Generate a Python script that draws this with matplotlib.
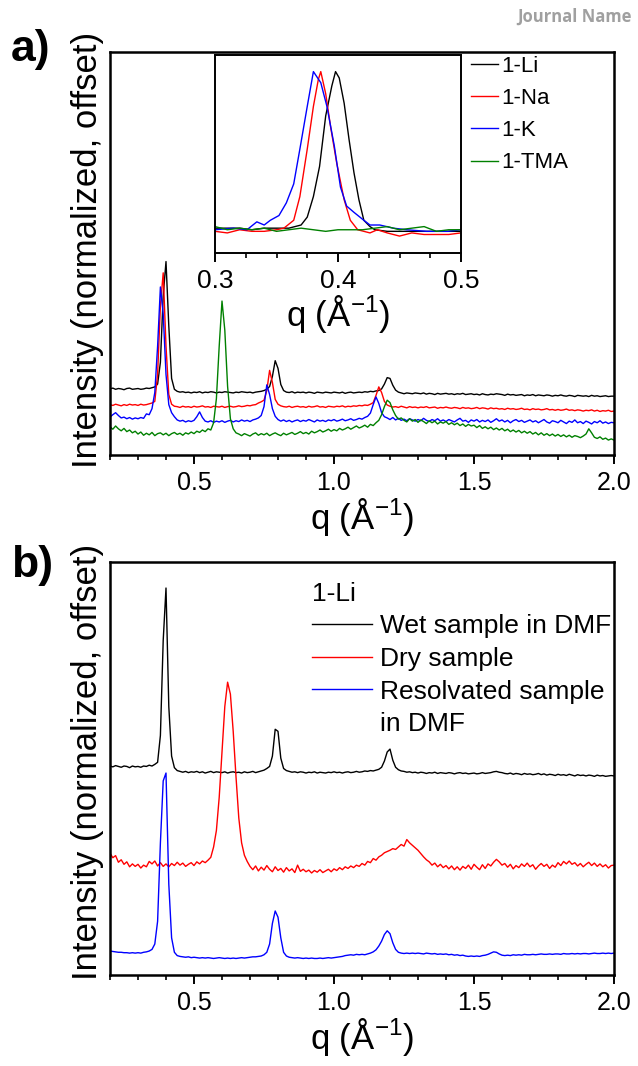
import numpy as np
import matplotlib.pyplot as plt
from matplotlib.lines import Line2D
from matplotlib.ticker import MultipleLocator

plt.rcParams['font.family'] = ['Liberation Sans', 'DejaVu Sans']
plt.rcParams['mathtext.fontset'] = 'custom'
plt.rcParams['mathtext.rm'] = 'Liberation Sans'
plt.rcParams['mathtext.it'] = 'Liberation Sans:italic'

#%% DATA (intensities relative to each trace's baseline)

# shared q grid for the full-range scans, 0.20 .. 2.00 in 0.01 steps
q = np.linspace(0.2, 2.0, 181)

# panel a, full range
a_li = [1.4, 1.6, 1.3, 1.5, 1.4, 1.2, 1.5, 1.6, 1.3, 1.4,
        1.5, 1.3, 1.4, 1.6, 1.5, 1.7, 1.9, 2.6, 8.0, 24.5,
        33.0, 17.0, 4.0, 1.3, 0.8, 0.6, 0.7, 0.5, 0.6, 0.4,
        0.6, 0.5, 0.7, 0.4, 0.6, 0.5, 0.7, 0.6, 0.4, 0.6,
        0.5, 0.7, 0.6, 0.5, 0.4, 0.6, 0.5, 0.7, 0.6, 0.5,
        0.6, 0.4, 0.6, 0.7, 0.8, 1.0, 1.3, 2.0, 4.5, 8.4,
        6.5, 2.5, 1.0, 0.6, 0.5, 0.7, 0.4, 0.6, 0.5, 0.6,
        0.4, 0.6, 0.5, 0.3, 0.6, 0.5, 0.4, 0.6, 0.5, 0.4,
        0.6, 0.5, 0.4, 0.6, 0.3, 0.5, 0.6, 0.4, 0.5, 0.6,
        0.5, 0.7, 0.6, 0.8, 0.7, 0.9, 1.0, 1.4, 2.6, 4.2,
        4.0, 2.3, 1.1, 0.6, 0.4, 0.2, 0.4, 0.3, 0.2, 0.4,
        0.3, 0.2, 0.4, 0.1, 0.3, 0.2, 0.0, 0.3, 0.1, 0.2,
        0.3, 0.1, 0.2, 0.0, 0.2, 0.1, 0.3, 0.0, 0.1, 0.2,
        0.0, 0.1, -0.1, 0.2, 0.0, -0.1, 0.1, 0.0, 0.2, 0.1,
        0.0, -0.2, 0.1, -0.1, 0.0, -0.2, -0.1, 0.0, -0.3, -0.1,
        -0.2, 0.0, -0.3, -0.1, -0.2, -0.3, -0.1, -0.2, -0.4, -0.2,
        -0.3, -0.1, -0.3, -0.4, -0.2, -0.3, -0.5, -0.2, -0.3, -0.4,
        -0.3, -0.5, -0.2, -0.4, -0.3, -0.5, -0.4, -0.3, -0.5, -0.4,
        -0.4]
a_na = [0.5, 0.3, 0.6, 0.4, 0.2, 0.5, 0.3, 0.6, 0.4, 0.5,
        0.3, 0.6, 0.4, 0.5, 0.7, 0.9, 1.3, 8.0, 25.0, 33.2,
        15.0, 3.0, 0.6, 0.1, 0.0, -0.2, 0.1, -0.1, 0.0, -0.2,
        0.1, -0.1, 0.0, 0.2, -0.1, 0.0, -0.2, 0.1, 0.0, -0.1,
        0.1, -0.2, 0.0, 0.1, -0.1, 0.0, 0.2, 0.0, 0.1, 0.3,
        0.2, 0.4, 0.5, 0.9, 1.2, 1.6, 4.0, 9.0, 6.0, 1.8,
        0.6, 0.2, 0.0, -0.1, 0.1, -0.2, 0.0, 0.1, -0.1, 0.0,
        -0.2, 0.1, -0.1, 0.0, 0.2, -0.1, 0.0, -0.2, 0.1, 0.0,
        -0.1, 0.1, 0.0, 0.2, -0.1, 0.1, 0.0, 0.2, 0.1, 0.3,
        0.2, 0.4, 0.3, 0.6, 1.0, 2.8, 4.9, 3.5, 1.3, 0.4,
        0.1, -0.1, 0.0, -0.2, 0.1, -0.1, -0.3, 0.0, -0.2, -0.1,
        -0.3, -0.1, -0.2, 0.0, -0.3, -0.2, -0.1, -0.4, -0.2, -0.3,
        -0.1, -0.3, -0.4, -0.2, -0.3, -0.5, -0.2, -0.4, -0.3, -0.5,
        -0.4, -0.2, -0.5, -0.3, -0.4, -0.6, -0.3, -0.5, -0.4, -0.6,
        -0.5, -0.7, -0.4, -0.6, -0.5, -0.7, -0.6, -0.4, -0.7, -0.6,
        -0.8, -0.5, -0.7, -0.6, -0.8, -0.7, -0.5, -0.8, -0.7, -0.9,
        -0.7, -0.9, -0.8, -0.6, -0.9, -0.8, -1.0, -0.8, -0.9, -1.1,
        -0.9, -1.0, -0.8, -1.1, -0.9, -1.2, -1.0, -1.1, -0.9, -1.2,
        -1.1]
a_k = [0.4, 1.0, 1.5, 0.8, 0.2, 0.4, 0.0, 0.3, -0.1, 0.2,
       0.0, 0.3, 0.1, 1.2, 1.0, 2.5, 6.5, 18.0, 32.7, 26.0,
       11.0, 3.5, 1.5, 0.5, -0.3, -0.6, -0.4, -0.8, -0.5, -0.7,
       -0.4, 0.5, 1.7, 0.3, -0.6, -0.8, -0.5, -0.9, -0.6, -0.8,
       -0.5, -0.9, -0.6, -0.4, -0.8, -0.5, -0.7, -0.3, -0.6, -0.4,
       -0.7, -0.3, -0.1, 0.2, 0.8, 3.0, 8.4, 6.0, 2.5, 0.6,
       -0.2, -0.6, -0.3, -0.7, -0.4, -0.8, -0.5, -0.3, -0.7, -0.4,
       -0.6, -0.2, -0.5, -0.8, -0.3, -0.6, -0.4, -0.7, -0.3, -0.5,
       -0.2, -0.6, -0.4, -0.1, -0.5, -0.3, 0.0, -0.4, -0.2, 0.1,
       -0.1, 0.3, 0.6, 1.4, 3.5, 5.4, 3.8, 1.5, 0.5, 0.2,
       -0.2, 0.3, -0.3, 0.1, -0.4, -0.1, -0.5, 0.0, -0.3, -0.6,
       -0.2, -0.5, 0.1, -0.4, -0.7, -0.2, -0.5, 0.0, -0.6, -0.3,
       -0.7, -0.2, -0.5, -0.8, -0.3, 0.1, -0.6, -0.4, -0.9, -0.3,
       -0.6, -0.2, -0.8, -0.4, -0.7, -0.3, -0.9, -0.5, 0.0, -0.6,
       -0.3, -0.8, -0.4, -1.0, -0.5, -0.2, -0.7, -0.4, -0.9, -0.6,
       -0.3, -0.8, -0.5, -1.0, -0.6, -0.2, -0.8, -1.1, -0.5, -0.7,
       -1.0, -0.4, -0.8, -1.2, -0.6, -0.9, -0.3, -1.0, -0.7, -1.2,
       -0.6, -0.9, -1.3, -0.7, -1.0, -0.5, -1.1, -0.8, -1.2, -0.9,
       -1.0]
a_tma = [2.0, 1.4, 2.2, 1.5, 1.0, 1.6, 0.8, 1.2, 0.5, 0.9,
         0.2, 0.7, -0.1, 0.4, 0.0, 0.6, -0.2, 0.3, 0.5, 0.0,
         0.4, -0.2, 0.3, 0.6, 0.1, 0.4, -0.1, 0.5, 0.2, 0.7,
         0.3, 0.9, 0.6, 1.2, 0.8, 1.5, 1.2, 3.0, 9.0, 22.0,
         33.2, 26.0, 12.0, 4.0, 1.5, 0.5, 0.2, -0.2, 0.3, 0.0,
         -0.3, 0.2, 0.5, -0.1, 0.3, 0.0, 0.4, -0.2, 0.2, 0.5,
         0.1, -0.2, 0.4, 0.0, 0.3, 0.6, 0.1, 0.4, 0.8, 0.3,
         0.6, 0.2, 0.9, 0.5, 0.8, 1.2, 0.7, 1.0, 1.4, 0.9,
         1.3, 1.0, 1.6, 1.2, 1.5, 1.9, 1.4, 1.8, 2.2, 1.7,
         2.0, 2.4, 1.9, 2.6, 2.3, 3.0, 3.6, 5.0, 7.0, 8.6,
         8.0, 6.2, 4.8, 3.9, 4.2, 3.6, 3.2, 4.0, 3.4, 3.8,
         3.1, 3.7, 3.3, 2.8, 3.5, 3.0, 3.4, 2.7, 3.2, 2.9,
         3.3, 2.6, 3.0, 2.5, 2.9, 2.3, 2.7, 2.1, 2.6, 2.2,
         2.4, 1.8, 2.3, 1.6, 2.0, 1.5, 1.9, 1.3, 1.7, 1.2,
         1.6, 1.0, 1.4, 0.8, 1.2, 0.7, 1.1, 0.5, 0.9, 0.4,
         0.8, 0.2, 0.6, 0.0, 0.5, -0.1, 0.3, -0.2, 0.2, -0.3,
         0.1, -0.4, 0.0, -0.5, -0.1, -0.6, -0.2, -0.4, -0.7, -0.3,
         0.2, 1.5, 0.5, -0.6, -0.9, -0.5, -1.1, -0.8, -1.3, -1.0,
         -1.3]
a_labels = ['1-Li', '1-Na', '1-K', '1-TMA']
a_offsets = [15, 12, 9, 5]

# panel a inset, zoom on the first peak (normalized)
in_q_li = [0.30, 0.31, 0.32, 0.33, 0.34, 0.35, 0.36, 0.37, 0.375, 0.38, 0.385, 0.39, 0.395,
           0.398, 0.401, 0.405, 0.409, 0.413, 0.417, 0.421, 0.426, 0.43, 0.44, 0.45, 0.46,
           0.47, 0.48, 0.49, 0.50]
in_li = [0.01, 0.01, 0.01, 0.00, 0.01, 0.01, 0.01, 0.03, 0.08, 0.21, 0.40, 0.72, 0.91,
         1.00, 0.96, 0.80, 0.57, 0.36, 0.19, 0.06, 0.02, 0.00, -0.01, -0.01, -0.01,
         -0.01, -0.01, -0.01, -0.01]
in_q_na = [0.30, 0.31, 0.32, 0.33, 0.34, 0.35, 0.356, 0.364, 0.369, 0.375, 0.38, 0.384, 0.386,
           0.39, 0.394, 0.399, 0.405, 0.41, 0.416, 0.421, 0.426, 0.432, 0.44, 0.45, 0.46,
           0.47, 0.48, 0.49, 0.50]
in_na = [-0.01, -0.02, 0.00, -0.01, -0.01, 0.00, 0.01, 0.06, 0.21, 0.51, 0.78, 0.95, 1.00,
         0.86, 0.65, 0.42, 0.19, 0.06, 0.00, -0.01, -0.02, 0.00, -0.02, -0.04, -0.02,
         -0.03, -0.03, -0.03, -0.02]
in_q_k = [0.30, 0.315, 0.326, 0.334, 0.34, 0.345, 0.352, 0.358, 0.364, 0.369, 0.375, 0.38,
          0.386, 0.391, 0.397, 0.402, 0.407, 0.413, 0.421, 0.426, 0.434, 0.445, 0.456,
          0.472, 0.489, 0.50]
in_k = [0.00, 0.01, 0.00, 0.05, 0.03, 0.06, 0.09, 0.17, 0.29, 0.51, 0.78, 1.00,
        0.93, 0.78, 0.53, 0.27, 0.15, 0.11, 0.06, 0.03, 0.03, 0.01, 0.00,
        -0.01, -0.01, 0.00]
in_q_tma = [0.30, 0.31, 0.32, 0.33, 0.34, 0.35, 0.36, 0.37, 0.38, 0.39, 0.40,
            0.41, 0.42, 0.43, 0.44, 0.45, 0.46, 0.47, 0.48, 0.49, 0.50]
in_tma = [0.02, 0.00, 0.01, 0.00, 0.01, -0.01, 0.00, 0.01, 0.00, -0.01, 0.00,
          0.00, 0.00, 0.01, 0.02, 0.00, 0.01, 0.02, -0.01, 0.00, 0.00]

# panel b, 1-Li in different states
b_wet = [1.6, 1.4, 1.7, 1.5, 1.3, 1.6, 1.5, 1.2, 1.6, 1.4,
         1.5, 1.3, 1.6, 1.5, 1.8, 1.6, 2.0, 2.5, 9.0, 32.0,
         44.7, 16.0, 4.0, 1.2, 0.5, 0.3, 0.1, 0.3, 0.0, 0.2,
         0.1, 0.3, 0.0, 0.2, -0.1, 0.1, 0.3, 0.0, 0.2, 0.1,
         0.0, 0.2, -0.1, 0.1, 0.2, 0.0, 0.1, -0.1, 0.2, 0.0,
         0.1, 0.3, 0.0, 0.2, 0.4, 0.6, 1.0, 1.5, 4.0, 10.5,
         10.0, 3.5, 1.0, 0.5, 0.3, 0.1, 0.2, 0.0, 0.2, 0.1,
         -0.1, 0.1, 0.0, 0.2, -0.1, 0.1, 0.0, -0.1, 0.1, 0.0,
         0.2, 0.0, 0.1, -0.1, 0.1, 0.2, 0.0, 0.1, 0.3, 0.1,
         0.2, 0.4, 0.3, 0.5, 0.4, 0.6, 0.8, 1.3, 2.8, 5.0,
         5.7, 3.0, 1.3, 0.7, 0.4, 0.3, 0.1, 0.2, 0.0, 0.1,
         -0.1, 0.1, 0.0, -0.2, 0.0, -0.1, 0.1, -0.2, 0.0, -0.1,
         -0.2, 0.0, -0.1, -0.3, -0.1, 0.0, -0.2, -0.1, -0.3, -0.2,
         -0.1, -0.3, -0.2, 0.0, -0.2, -0.1, 0.0, 0.2, 0.3, 0.1,
         0.0, -0.2, -0.3, -0.1, -0.4, -0.2, -0.3, -0.5, -0.2, -0.4,
         -0.3, -0.5, -0.4, -0.2, -0.5, -0.3, -0.6, -0.4, -0.5, -0.7,
         -0.4, -0.6, -0.5, -0.7, -0.4, -0.6, -0.8, -0.5, -0.7, -0.6,
         -0.8, -0.6, -0.7, -0.9, -0.6, -0.8, -0.7, -0.9, -0.8, -0.7,
         -0.8]
b_dry = [3.5, 2.4, 2.9, 1.3, 1.9, 0.8, 1.4, 0.2, 0.9, 0.3,
         0.8, -0.1, 0.6, 0.2, 1.5, 0.9, 1.6, 0.4, 1.2, 0.3,
         0.9, 0.2, 1.0, 0.5, 1.3, 0.6, 1.1, 0.3, 0.8, 1.2,
         0.5, 1.4, 0.9, 1.6, 1.2, 1.8, 2.5, 5.0, 9.0, 17.0,
         28.0, 39.0, 44.9, 42.0, 33.0, 22.0, 12.0, 6.0, 3.0, 1.5,
         0.3, -0.5, 0.4, -0.8, 0.1, -0.6, 0.5, -0.4, -1.0, 0.2,
         -0.7, -0.2, -1.1, 0.0, -0.8, -0.3, -1.2, 0.6, -0.9, -0.4,
         -1.0, -0.6, -1.3, -0.7, -1.1, -0.5, -1.2, -0.8, -0.4, -1.0,
         -0.3, -0.7, 0.0, -0.5, 0.2, -0.2, 0.4, 0.0, 0.6, 0.3,
         1.0, 0.6, 1.5, 1.2, 2.2, 1.8, 2.6, 3.0, 3.6, 3.9,
         4.2, 4.6, 4.4, 5.0, 5.6, 5.2, 6.8, 6.0, 5.4, 4.8,
         4.2, 3.4, 2.6, 1.9, 1.4, 0.6, 1.1, 0.2, 0.8, 0.0,
         0.5, -0.3, 0.4, -0.5, 0.2, -0.6, 0.3, -0.2, 0.6, -0.4,
         0.8, 0.1, -0.5, 0.7, -0.2, 0.9, 0.4, 1.3, 2.0, 1.4,
         0.6, 1.0, 0.1, 0.8, -0.3, 0.5, 0.0, 0.9, 0.3, 1.1,
         0.2, 0.7, -0.4, 0.4, 1.0, 0.3, 0.8, -0.2, 0.6, 0.1,
         1.2, 0.5, 1.5, 0.9, 1.6, 0.8, 1.2, 0.4, 1.0, 0.2,
         0.8, 1.3, 0.5, 1.1, 0.3, 0.9, 0.2, 0.7, -0.1, 0.5,
         0.6]
b_resolv = [1.8, 1.7, 1.6, 1.5, 1.5, 1.4, 1.4, 1.3, 1.4, 1.3,
            1.4, 1.3, 1.5, 1.6, 1.8, 2.2, 3.5, 9.0, 28.0, 43.0,
            44.9, 18.0, 5.0, 1.5, 0.7, 0.5, 0.4, 0.3, 0.4, 0.2,
            0.3, 0.2, 0.1, 0.2, 0.1, 0.2, 0.1, 0.0, 0.1, 0.2,
            0.1, 0.0, 0.1, 0.0, 0.1, 0.0, 0.1, 0.2, 0.1, 0.2,
            0.3, 0.4, 0.4, 0.5, 0.6, 0.9, 1.5, 3.5, 8.5, 11.5,
            10.0, 5.0, 1.5, 0.6, 0.3, 0.2, 0.1, 0.2, 0.1, 0.0,
            0.1, 0.0, 0.1, 0.0, 0.0, 0.1, 0.0, 0.1, 0.2, 0.1,
            0.2, 0.3, 0.4, 0.5, 0.7, 0.8, 0.9, 0.8, 1.0, 0.9,
            1.0, 0.9, 1.1, 1.3, 1.6, 2.1, 3.0, 4.2, 5.8, 6.7,
            6.0, 3.8, 2.2, 1.5, 1.3, 1.2, 1.3, 1.2, 1.3, 1.2,
            1.3, 1.2, 1.1, 1.3, 1.2, 1.1, 1.2, 1.0, 1.1, 1.0,
            1.1, 0.9, 1.0, 0.8, 0.9, 0.7, 0.8, 0.6, 0.5, 0.6,
            0.5, 0.6, 0.5, 0.7, 0.8, 1.0, 1.3, 1.6, 1.5, 1.1,
            0.8, 0.7, 0.8, 0.7, 0.9, 0.8, 0.9, 0.8, 1.0, 0.9,
            0.9, 1.0, 0.9, 1.0, 1.1, 1.0, 1.0, 1.1, 1.0, 1.1,
            1.1, 1.0, 1.2, 1.1, 1.1, 1.2, 1.1, 1.2, 1.1, 1.2,
            1.2, 1.1, 1.2, 1.3, 1.2, 1.2, 1.3, 1.2, 1.3, 1.2,
            1.3]
b_labels = ['Wet sample in DMF', 'Dry sample', 'Resolvated sample\nin DMF']
b_offsets = [49, 26, 4]

colors = ['#000000', '#ff0000', '#0000ff', '#008000']

#%% FIGURE LAYOUT (pixel boxes of the original page)

W, H = 638, 1066
fig = plt.figure(figsize=(W / 100, H / 100), dpi=100)

ax_a = fig.add_axes([110 / W, 1 - 455 / H, 504 / W, 403 / H])
ax_b = fig.add_axes([110 / W, 1 - 975 / H, 504 / W, 413 / H])
ax_in = fig.add_axes([215 / W, 1 - 253 / H, 246 / W, 198 / H])

xlab = r'q (Å$^{\mathrm{-1}}$)'
ylab = 'Intensity (normalized, offset)'


def style_axes(ax, major, minor, lsize, spw):
    ax.set_yticks([])
    ax.xaxis.set_major_locator(MultipleLocator(major))
    ax.xaxis.set_minor_locator(MultipleLocator(minor))
    ax.tick_params(axis='x', which='major', direction='out', length=6.5, width=1.4,
                   labelsize=lsize, pad=5)
    ax.tick_params(axis='x', which='minor', direction='out', length=3.5, width=1.2)
    for s in ax.spines.values():
        s.set_linewidth(spw)


#%% PANEL A

for y, off, c, lab in zip([a_li, a_na, a_k, a_tma], a_offsets, colors, a_labels):
    ax_a.plot(q, np.array(y) + off, color=c, lw=1.0, label=lab)
ax_a.set_xlim(0.2, 2.0)
ax_a.set_ylim(0, 100)
style_axes(ax_a, 0.5, 0.1, 18, 1.8)
ax_a.set_xlabel(xlab, fontsize=25, labelpad=1)
ax_a.set_ylabel(ylab, fontsize=25)
ax_a.yaxis.set_label_coords(-0.012, 0.51)

# inset
for qq, y, c, lab in zip([in_q_li, in_q_na, in_q_k, in_q_tma], [in_li, in_na, in_k, in_tma],
                         colors, a_labels):
    ax_in.plot(qq, y, color=c, lw=1.0, label=lab)
ax_in.set_xlim(0.3, 0.5)
ax_in.set_ylim(-0.147, 1.105)
style_axes(ax_in, 0.1, 0.025, 19, 1.4)
ax_in.set_xlabel(xlab, fontsize=25, labelpad=0)
ax_in.legend(loc='upper left', bbox_to_anchor=(471 / W, 1 - 56 / H), bbox_transform=fig.transFigure,
             frameon=False, fontsize=16, handlelength=1.2, handletextpad=0.15,
             labelspacing=0.5, borderpad=0, borderaxespad=0)

#%% PANEL B

handles, labels = [], []
for y, off, c, lab in zip([b_wet, b_dry, b_resolv], b_offsets, colors, b_labels):
    ln, = ax_b.plot(q, np.array(y) + off, color=c, lw=1.0)
    # wrapped labels: handle sits on the first line, the rest follow without a line
    parts = lab.split('\n')
    handles.append(ln)
    labels.append(parts[0])
    for extra in parts[1:]:
        handles.append(Line2D([], [], color='none'))
        labels.append(extra)
ax_b.set_xlim(0.2, 2.0)
ax_b.set_ylim(0, 100)
style_axes(ax_b, 0.5, 0.1, 18, 1.8)
ax_b.set_xlabel(xlab, fontsize=25, labelpad=1)
ax_b.set_ylabel(ylab, fontsize=25)
ax_b.yaxis.set_label_coords(-0.012, 0.515)
ax_b.legend(handles, labels, loc='upper left', bbox_to_anchor=(305 / W, 1 - 575 / H),
            bbox_transform=fig.transFigure, frameon=False, fontsize=19,
            title='1-Li', title_fontsize=19, alignment='left',
            handlelength=2.3, handletextpad=0.28, labelspacing=0.33,
            borderpad=0.25, borderaxespad=0)

#%% PANEL LETTERS AND HEADER

fig.text(11 / W, 1 - 50 / H, 'a)', fontsize=32, fontweight='bold', va='center')
fig.text(11 / W, 1 - 566 / H, 'b)', fontsize=32, fontweight='bold', va='center')
fig.text(632 / W, 1 - 17 / H, 'Journal Name', ha='right', va='center', fontsize=12,
         fontweight='bold', color='#a0a0a0', family=['Open Sans', 'DejaVu Sans'])

plt.savefig('out.png', dpi=100)
